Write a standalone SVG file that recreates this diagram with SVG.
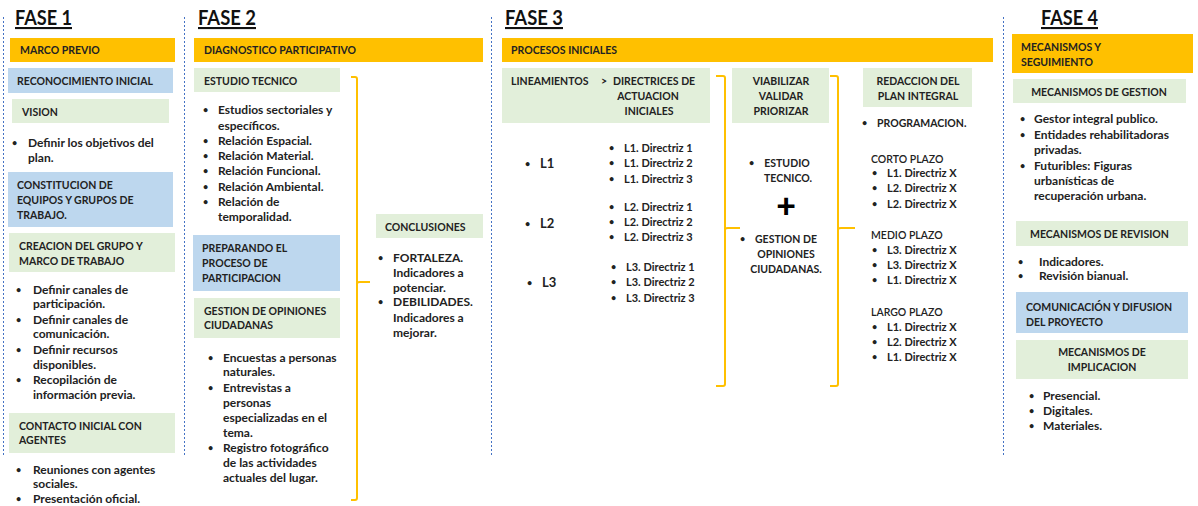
<svg xmlns="http://www.w3.org/2000/svg" width="1198" height="506" viewBox="0 0 1198 506">
<style>
text{font-family:Lato,"Liberation Sans",sans-serif;font-weight:bold;font-size:12px;fill:#222}
.t{font-size:21px;fill:#111;text-decoration:underline}
.h{font-size:10.5px}
.d{font-size:11px}
.c{text-anchor:middle}
.L{font-size:13px}
.b{font-size:9px}
.or{fill:#FFC000}
.bl{fill:#BDD7EE}
.gr{fill:#E2EFDA}
.dot{stroke:#4472C4;stroke-width:1;stroke-dasharray:2 2;fill:none}
.br{stroke:#FFC000;stroke-width:2;fill:none}
</style>
<rect width="1198" height="506" fill="#fff"/>
<g id="separators">
<line class="dot" x1="3.5" y1="17" x2="3.5" y2="455"/>
<line class="dot" x1="184.5" y1="17" x2="184.5" y2="455"/>
<line class="dot" x1="491.5" y1="17" x2="491.5" y2="455"/>
<line class="dot" x1="1003.5" y1="17" x2="1003.5" y2="455"/>
</g>
<g id="titles">
<text class="t" x="15" y="25" textLength="57" lengthAdjust="spacingAndGlyphs">FASE 1</text>
<text class="t" x="198" y="25" textLength="58" lengthAdjust="spacingAndGlyphs">FASE 2</text>
<text class="t" x="505" y="25" textLength="58" lengthAdjust="spacingAndGlyphs">FASE 3</text>
<text class="t" x="1041" y="25" textLength="57" lengthAdjust="spacingAndGlyphs">FASE 4</text>
</g>
<g id="connectors">
<path class="br" d="M351,77 H355 Q357,77 357,79 V498 Q357,500 355,500 H351"/>
<path class="br" d="M357,283 Q358,282 360,282 H370"/>
<path class="br" d="M716,76 H723 Q725,76 725,78 V384 Q725,386 723,386 H716"/>
<path class="br" d="M725,229 Q726,228 728,228 H740"/>
<path class="br" d="M830,76 H836 Q838,76 838,78 V384 Q838,386 836,386 H830"/>
<path class="br" d="M838,229 Q839,228 841,228 H855"/>
</g>
<!-- FASE 1 -->
<g id="marco-previo"><rect class="or" x="10" y="38" width="165" height="24"/><text class="h" x="20" y="54">MARCO PREVIO</text></g>
<g id="reconocimiento"><rect class="bl" x="8" y="68" width="165" height="25"/><text class="h" x="17" y="85">RECONOCIMIENTO  INICIAL</text></g>
<g id="vision"><rect class="gr" x="12" y="99" width="157" height="24"/><text class="h" x="22" y="116">VISION</text></g>
<g id="vision-list"><text class="b" x="12" y="146">•</text><text x="28" y="147">Definir los objetivos del</text><text x="28" y="162">plan.</text></g>
<g id="constitucion"><rect class="bl" x="8" y="172" width="165" height="55"/><text class="h" x="17" y="189">CONSTITUCION  DE</text><text class="h" x="17" y="204">EQUIPOS Y GRUPOS  DE</text><text class="h" x="17" y="219">TRABAJO.</text></g>
<g id="creacion"><rect class="gr" x="9" y="233" width="166" height="39"/><text class="h" x="19" y="250">CREACION DEL GRUPO  Y</text><text class="h" x="19" y="265">MARCO DE TRABAJO</text></g>
<g id="creacion-list">
<text class="b" x="16" y="293">•</text><text x="33" y="294">Definir canales de</text><text x="33" y="308">participación.</text>
<text class="b" x="16" y="323">•</text><text x="33" y="324">Definir canales de</text><text x="33" y="338">comunicación.</text>
<text class="b" x="16" y="353">•</text><text x="33" y="354">Definir recursos</text><text x="33" y="369">disponibles.</text>
<text class="b" x="16" y="383">•</text><text x="33" y="384">Recopilación  de</text><text x="33" y="399">información  previa.</text>
</g>
<g id="contacto"><rect class="gr" x="9" y="413" width="166" height="40"/><text class="h" x="19" y="430">CONTACTO INICIAL CON</text><text class="h" x="19" y="444">AGENTES</text></g>
<g id="contacto-list">
<text class="b" x="16" y="473">•</text><text x="33" y="474">Reuniones con agentes</text><text x="33" y="488">sociales.</text>
<text class="b" x="16" y="502">•</text><text x="33" y="503">Presentación oficial.</text>
</g>
<!-- FASE 2 -->
<g id="diagnostico"><rect class="or" x="194" y="38" width="289" height="24"/><text class="h" x="204" y="54">DIAGNOSTICO  PARTICIPATIVO</text></g>
<g id="estudio-tecnico"><rect class="gr" x="194" y="68" width="146" height="24"/><text class="h" x="204" y="85">ESTUDIO  TECNICO</text></g>
<g id="estudio-list">
<text class="b" x="203" y="113">•</text><text x="218" y="114">Estudios sectoriales y</text><text x="218" y="130">específicos.</text>
<text class="b" x="203" y="144">•</text><text x="218" y="145">Relación  Espacial.</text>
<text class="b" x="203" y="159">•</text><text x="218" y="160">Relación  Material.</text>
<text class="b" x="203" y="174">•</text><text x="218" y="175">Relación  Funcional.</text>
<text class="b" x="203" y="190">•</text><text x="218" y="191">Relación  Ambiental.</text>
<text class="b" x="203" y="205">•</text><text x="218" y="206">Relación  de</text><text x="218" y="221">temporalidad.</text>
</g>
<g id="preparando"><rect class="bl" x="193" y="235" width="147" height="56"/><text class="h" x="202" y="252">PREPARANDO  EL</text><text class="h" x="202" y="267">PROCESO DE</text><text class="h" x="202" y="282">PARTICIPACION</text></g>
<g id="gestion-opiniones"><rect class="gr" x="194" y="298" width="146" height="40"/><text class="h" x="204" y="315">GESTION  DE OPINIONES</text><text class="h" x="204" y="329">CIUDADANAS</text></g>
<g id="gestion-list">
<text class="b" x="208" y="361">•</text><text x="223" y="362">Encuestas  a personas</text><text x="223" y="376">naturales.</text>
<text class="b" x="208" y="391">•</text><text x="223" y="392">Entrevistas a</text><text x="223" y="407">personas</text><text x="223" y="422">especializadas  en el</text><text x="223" y="437">tema.</text>
<text class="b" x="208" y="451">•</text><text x="223" y="452">Registro fotográfico</text><text x="223" y="467">de las actividades</text><text x="223" y="482">actuales  del lugar.</text>
</g>
<g id="conclusiones"><rect class="gr" x="376" y="214" width="107" height="24"/><text class="h" x="385" y="231">CONCLUSIONES</text></g>
<g id="conclusiones-list">
<text class="b" x="378" y="261">•</text><text x="393" y="262">FORTALEZA.</text><text x="393" y="277">Indicadores a</text><text x="393" y="292">potenciar.</text>
<text class="b" x="378" y="305">•</text><text x="393" y="306">DEBILIDADES.</text><text x="393" y="322">Indicadores a</text><text x="393" y="337">mejorar.</text>
</g>
<!-- FASE 3 -->
<g id="procesos"><rect class="or" x="502" y="38" width="491" height="24"/><text class="h" x="511" y="54">PROCESOS  INICIALES</text></g>
<g id="lineamientos"><rect class="gr" x="502" y="68" width="208" height="55"/><text class="h" x="511" y="85">LINEAMIENTOS</text><text class="h" x="601" y="85">&gt;</text><text class="h" x="613" y="85">DIRECTRICES  DE</text><text class="h c" x="648" y="100">ACTUACION</text><text class="h c" x="649" y="115">INICIALES</text></g>
<g id="lineas">
<text class="b" x="525" y="167">•</text><text class="L" x="540" y="168">L1</text>
<text class="b" x="525" y="227">•</text><text class="L" x="540" y="228">L2</text>
<text class="b" x="527" y="286">•</text><text class="L" x="542" y="287">L3</text>
</g>
<g id="directrices">
<text class="b" x="609" y="151">•</text><text class="d" x="624" y="152">L1. Directriz 1</text>
<text class="b" x="609" y="166">•</text><text class="d" x="624" y="167">L1. Directriz 2</text>
<text class="b" x="609" y="182">•</text><text class="d" x="624" y="183">L1. Directriz 3</text>
<text class="b" x="609" y="210">•</text><text class="d" x="624" y="211">L2. Directriz 1</text>
<text class="b" x="609" y="225">•</text><text class="d" x="624" y="226">L2. Directriz 2</text>
<text class="b" x="609" y="240">•</text><text class="d" x="624" y="241">L2. Directriz 3</text>
<text class="b" x="611" y="270">•</text><text class="d" x="626" y="271">L3. Directriz 1</text>
<text class="b" x="611" y="285">•</text><text class="d" x="626" y="286">L3. Directriz 2</text>
<text class="b" x="611" y="301">•</text><text class="d" x="626" y="302">L3. Directriz 3</text>
</g>
<g id="viabilizar"><rect class="gr" x="732" y="68" width="97" height="55"/><text class="h c" x="781" y="85">VIABILIZAR</text><text class="h c" x="781" y="100">VALIDAR</text><text class="h c" x="781" y="115">PRIORIZAR</text></g>
<g id="viabilizar-list">
<text class="b" x="749" y="166">•</text><text class="h c" x="787" y="167">ESTUDIO</text><text class="h c" x="788" y="182">TECNICO.</text>
<text class="c" x="786" y="218" style="font-size:34px;font-weight:900;fill:#000">+</text>
<text class="b" x="740" y="242">•</text><text class="h c" x="786" y="243">GESTION  DE</text><text class="h c" x="786" y="258">OPINIONES</text><text class="h c" x="786" y="273">CIUDADANAS.</text>
</g>
<g id="redaccion"><rect class="gr" x="863" y="68" width="109" height="39"/><text class="h c" x="918" y="85">REDACCION  DEL</text><text class="h c" x="918" y="100">PLAN INTEGRAL</text></g>
<g id="programacion">
<text class="b" x="862" y="126">•</text><text class="h" x="877" y="127">PROGRAMACION.</text>
<text class="h" x="871" y="163" style="font-weight:600">CORTO PLAZO</text>
<text class="b" x="872" y="176">•</text><text class="d" x="887" y="177">L1. Directriz X</text>
<text class="b" x="872" y="191">•</text><text class="d" x="887" y="192">L2. Directriz X</text>
<text class="b" x="872" y="207">•</text><text class="d" x="887" y="208">L2. Directriz X</text>
<text class="h" x="871" y="239" style="font-weight:600">MEDIO  PLAZO</text>
<text class="b" x="872" y="253">•</text><text class="d" x="887" y="254">L3. Directriz X</text>
<text class="b" x="872" y="268">•</text><text class="d" x="887" y="269">L3. Directriz X</text>
<text class="b" x="872" y="283">•</text><text class="d" x="887" y="284">L1. Directriz X</text>
<text class="h" x="871" y="316" style="font-weight:600">LARGO PLAZO</text>
<text class="b" x="872" y="330">•</text><text class="d" x="887" y="331">L1. Directriz X</text>
<text class="b" x="872" y="345">•</text><text class="d" x="887" y="346">L2. Directriz X</text>
<text class="b" x="872" y="360">•</text><text class="d" x="887" y="361">L1. Directriz X</text>
</g>
<!-- FASE 4 -->
<g id="mecanismos-seguimiento"><rect class="or" x="1012" y="34" width="181" height="39"/><text class="h" x="1021" y="51">MECANISMOS  Y</text><text class="h" x="1021" y="66">SEGUIMIENTO</text></g>
<g id="mecanismos-gestion"><rect class="gr" x="1013" y="79" width="173" height="24"/><text class="h c" x="1099" y="96">MECANISMOS  DE GESTION</text></g>
<g id="gestion4-list">
<text class="b" x="1020" y="122">•</text><text x="1034" y="123">Gestor integral publico.</text>
<text class="b" x="1020" y="138">•</text><text x="1034" y="139">Entidades rehabilitadoras</text><text x="1034" y="154">privadas.</text>
<text class="b" x="1020" y="169">•</text><text x="1034" y="170">Futuribles: Figuras</text><text x="1034" y="185">urbanísticas  de</text><text x="1034" y="200">recuperación urbana.</text>
</g>
<g id="mecanismos-revision"><rect class="gr" x="1016" y="221" width="172" height="25"/><text class="h" x="1030" y="238">MECANISMOS  DE REVISION</text></g>
<g id="revision-list">
<text class="b" x="1018" y="265">•</text><text x="1039" y="266">Indicadores.</text>
<text class="b" x="1018" y="279">•</text><text x="1039" y="280">Revisión  bianual.</text>
</g>
<g id="comunicacion"><rect class="bl" x="1016" y="292" width="172" height="41"/><text class="h" x="1026" y="311">COMUNICACIÓN  Y DIFUSION</text><text class="h" x="1026" y="326">DEL PROYECTO</text></g>
<g id="mecanismos-implicacion"><rect class="gr" x="1016" y="340" width="172" height="39"/><text class="h c" x="1102" y="356">MECANISMOS  DE</text><text class="h c" x="1102" y="371">IMPLICACION</text></g>
<g id="implicacion-list">
<text class="b" x="1029" y="399">•</text><text x="1043" y="400">Presencial.</text>
<text class="b" x="1029" y="414">•</text><text x="1043" y="415">Digitales.</text>
<text class="b" x="1029" y="429">•</text><text x="1043" y="430">Materiales.</text>
</g>
</svg>
